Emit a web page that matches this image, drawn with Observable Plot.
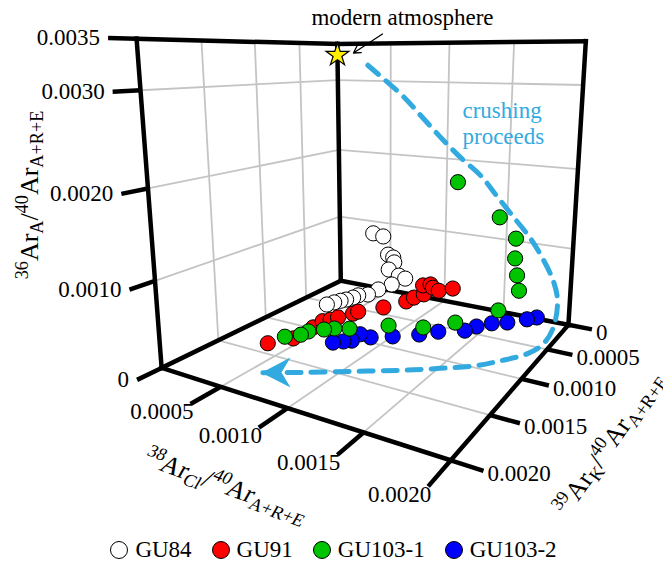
<!DOCTYPE html>
<html><head><meta charset="utf-8">
<script src="https://cdn.jsdelivr.net/npm/d3@7"></script>
<script src="https://cdn.jsdelivr.net/npm/@observablehq/plot@0.6"></script>
<style>
body{margin:0;background:#fff;}
#chart{position:absolute;left:0;top:0;}
#legend{position:absolute;left:2px;top:537px;width:663px;display:flex;justify-content:center;align-items:center;line-height:26px;}
.item{display:flex;align-items:center;margin:0 10px;}
.sw{width:18px;height:18px;border-radius:50%;border:1px solid #000;box-sizing:border-box;margin-right:7px;}
</style></head><body><div id="chart"></div><div id="legend"></div>
<script>
// ---------------- DATA ----------------
const seriesNames = ["GU84", "GU91", "GU103-1", "GU103-2"];
const seriesColors = ["#ffffff", "#ff0000", "#00c400", "#0000ff"];
// 38ArCl/40Ar (Cl), 39ArK/40Ar (K), 36ArA/40Ar (A)
const gu84_Cl = [0.00066,0.00077,0.00084,0.00086,0.00088,0.00084,0.00093,0.00096,0.00090,0.00083,0.00078,0.00073,0.00068,0.00066,0.00064,0.00062,0.00060];
const gu84_K  = [0.00053,0.00057,0.00062,0.00058,0.00060,0.00061,0.00062,0.00058,0.00067,0.00074,0.00080,0.00085,0.00084,0.00090,0.00094,0.00099,0.00105];
const gu84_A  = [0.00110,0.00110,0.00090,0.00085,0.00080,0.00070,0.00065,0.00060,0.00055,0.00050,0.00045,0.00045,0.00040,0.00040,0.00040,0.00040,0.00040];
const gu91_Cl = [0.00059,0.00068,0.00068,0.00067,0.00070,0.00072,0.00077,0.00078,0.00089,0.00097,0.00098,0.00101,0.00091,0.00095,0.00100,0.00107,0.00114];
const gu91_K  = [0.00167,0.00153,0.00132,0.00120,0.00115,0.00109,0.00098,0.00093,0.00077,0.00058,0.00048,0.00038,0.00020,0.00015,0.00021,0.00025,0.00015];
const gu91_A  = [0.00030,0.00030,0.00030,0.00030,0.00030,0.00030,0.00030,0.00030,0.00030,0.00030,0.00030,0.00030,0.00030,0.00030,0.00030,0.00030,0.00030];
const gu1031_Cl = [0.00114,0.00148,0.00161,0.00161,0.00163,0.00165,0.00156,0.00139,0.00124,0.00102,0.00082,0.00073,0.00068,0.00061,0.00060,0.00053];
const gu1031_K  = [0.00010,0.00010,0.00010,0.00010,0.00010,0.00010,0.00027,0.00064,0.00083,0.00092,0.00110,0.00115,0.00120,0.00128,0.00135,0.00143];
const gu1031_A  = [0.00173,0.00133,0.00108,0.00082,0.00060,0.00040,0.00020,0.00020,0.00020,0.00020,0.00020,0.00020,0.00020,0.00020,0.00020,0.00020];
const gu1032_Cl = [0.00180,0.00175,0.00165,0.00156,0.00149,0.00145,0.00130,0.00121,0.00107,0.00095,0.00086,0.00087,0.00083,0.00078];
const gu1032_K  = [0.00012,0.00019,0.00032,0.00039,0.00050,0.00061,0.00072,0.00083,0.00095,0.00104,0.00103,0.00115,0.00119,0.00124];
const gu1032_A  = [0.00010,0.00010,0.00010,0.00010,0.00010,0.00010,0.00010,0.00010,0.00010,0.00010,0.00010,0.00010,0.00010,0.00010];
// modern atmosphere
const atmCl = 0, atmK = 0, atmA = 0.003349;
// "crushing proceeds" trend path
const trendCl = [0.00029,0.00045,0.00062,0.00077,0.00094,0.00111,0.00128,0.00142,0.00155,0.00168,0.00178,0.00187,0.00191,0.00192,0.00195,0.00191,0.00180,0.00168,0.00151,0.00131,0.00105,0.00079,0.00059];
const trendK  = [0,0,0,0,0,0,0,0,0,0,0,0,0,0.00010,0.00042,0.00063,0.00082,0.00098,0.00112,0.00127,0.00144,0.00161,0.00173];
const trendA  = [0.00321,0.00301,0.00279,0.00255,0.00228,0.00203,0.00181,0.00155,0.00131,0.00107,0.00083,0.00055,0.00030,0,0,0,0,0,0,0,0,0,0];
// axes
const clMax = 0.0020, kMax = 0.0020, aMax = 0.0035;
const aTicks = [0, 0.0010, 0.0020, 0.0030, 0.0035];
const clTicks = [0.0005, 0.0010, 0.0015, 0.0020];
const kTicks = [0, 0.0005, 0.0010, 0.0015, 0.0020];
const gridCl = [0.0005, 0.0010, 0.0015];
const gridK = [0.0005, 0.0010, 0.0015];
const gridA = [0.0010, 0.0020, 0.0030];

// ---------------- FONT ----------------
function fontAvailable(name){
 const c=document.createElement("canvas").getContext("2d");const s="0.0035 modern atmosphere GU103-2 WMiil";
 for(const base of ["monospace","sans-serif"]){c.font=`40px ${base}`;const w0=c.measureText(s).width;
  c.font=`40px "${name}", ${base}`;const w1=c.measureText(s).width;if(Math.abs(w0-w1)>0.5)return true;}
 return false;}
const serifCandidates=["Liberation Serif","Times New Roman","Tinos","Nimbus Roman","Times","DejaVu Serif","Noto Serif"];
const FONT=serifCandidates.find(fontAvailable)||"serif";
const FS=/DejaVu/.test(FONT)?19:/Noto/.test(FONT)?20.5:23;
const TS=FS*26/23;

// ---------------- LAYOUT: perspective camera fitted to the box frame ----------------
const W = 663, H = 531;
const frameRef = [[0,0,0,340,280],[0,1,0,160,363],[1,0,0,568,325],[1,1,0,450,461],[0,0,1,337,44],[0,1,1,137,37],[1,0,1,583,40],
 [0,1,2/7,154,284],[0,1,4/7,148,190],[0,1,6/7,141,90.7],[1,.25,0,546,350],[1,.5,0,522,378],[1,.75,0,491,413],
 [0,.25,1,298,42.6],[0,.5,1,253,41],[0,.75,1,200,39.2],[.25,0,1,393,43.1],[.5,0,1,450,42.2],[.75,0,1,513,41.1]];
function fitCamera(pts){const rows=[],rhs=[];for(const [X,Y,Z,x,y] of pts){rows.push([X,Y,Z,1,0,0,0,0,-x*X,-x*Y,-x*Z]);rhs.push(x);rows.push([0,0,0,0,X,Y,Z,1,-y*X,-y*Y,-y*Z]);rhs.push(y);}
 const n=11;const M=Array.from({length:n},()=>Array(n+1).fill(0));rows.forEach((r,k)=>{for(let i=0;i<n;i++){for(let j=0;j<n;j++)M[i][j]+=r[i]*r[j];M[i][n]+=r[i]*rhs[k];}});
 for(let c=0;c<n;c++){let m=c;for(let r=c+1;r<n;r++)if(Math.abs(M[r][c])>Math.abs(M[m][c]))m=r;[M[c],M[m]]=[M[m],M[c]];for(let r=0;r<n;r++){if(r===c)continue;const f=M[r][c]/M[c][c];for(let j=c;j<=n;j++)M[r][j]-=f*M[c][j];}}
 return M.map((r,i)=>r[n]/r[i]);}
const cam = fitCamera(frameRef);
function P(cl,k,a){const u=cl/clMax,v=k/kMax,w=a/aMax;const d=cam[8]*u+cam[9]*v+cam[10]*w+1;
 return [(cam[0]*u+cam[1]*v+cam[2]*w+cam[3])/d,(cam[4]*u+cam[5]*v+cam[6]*w+cam[7])/d];}
const seg=(p,q)=>{const [x1,y1]=P(...p),[x2,y2]=P(...q);return {x1,y1,x2,y2};};

const grid=[];
for(const k of gridK){grid.push(seg([0,k,0],[0,k,aMax]));grid.push(seg([0,k,0],[clMax,k,0]));}
for(const c of gridCl){grid.push(seg([c,0,0],[c,0,aMax]));grid.push(seg([c,0,0],[c,kMax,0]));}
for(const a of gridA){grid.push(seg([0,0,a],[0,kMax,a]));grid.push(seg([0,0,a],[clMax,0,a]));}
const edges=[seg([0,0,0],[0,0,aMax]),seg([0,kMax,0],[0,kMax,aMax]),seg([clMax,0,0],[clMax,0,aMax]),
 seg([0,kMax,aMax],[0,0,aMax]),seg([0,0,aMax],[clMax,0,aMax]),
 seg([0,0,0],[0,kMax,0]),seg([0,0,0],[clMax,0,0]),seg([0,kMax,0],[clMax,kMax,0]),seg([clMax,0,0],[clMax,kMax,0])];
const aTickSegs=aTicks.map(a=>({...seg([0,kMax,a],[0,kMax*1.095,a]),label:a===0?"0":a.toFixed(4)}));
const clTickSegs=clTicks.map(c=>({...seg([c,kMax,0],[c,kMax*1.12,0]),label:c.toFixed(4)}));
const kTickSegs=kTicks.map(k=>({...seg([clMax,k,0],[clMax*1.085,k,0]),label:k===0?"0":k.toFixed(4)}));

const raw=[[gu84_Cl,gu84_K,gu84_A],[gu91_Cl,gu91_K,gu91_A],[gu1031_Cl,gu1031_K,gu1031_A],[gu1032_Cl,gu1032_K,gu1032_A]];
const drawOrder=[0,1,3,2];
const pts=drawOrder.flatMap(s=>raw[s][0].map((c,i)=>{const [x,y]=P(c,raw[s][1][i],raw[s][2][i]);return {x,y,s:seriesNames[s],fill:seriesColors[s]};}));
const atm=(()=>{const [x,y]=P(atmCl,atmK,atmA);return {x,y};})();
const trend=trendCl.map((c,i)=>{const [x,y]=P(c,trendK[i],trendA[i]);return {x,y};});
const tip=trend[trend.length-1], prev=trend[trend.length-2];
const headAngle=Math.atan2(tip.y-prev.y,tip.x-prev.x)*180/Math.PI;
const arrowHead={draw(ctx){ctx.moveTo(1,0);ctx.lineTo(-28,-15);ctx.lineTo(-19,0);ctx.lineTo(-28,15);ctx.closePath();}};

const BLUE="#33aadf";
const chart=Plot.plot({
 width:W,height:H,margin:0,
 x:{type:"identity"},y:{type:"identity"},
 style:{fontFamily:FONT,background:"#fff"},
 marks:[
  Plot.link(grid,{x1:"x1",y1:"y1",x2:"x2",y2:"y2",stroke:"#c4c4c4",strokeWidth:1.8}),
  Plot.link(edges,{x1:"x1",y1:"y1",x2:"x2",y2:"y2",stroke:"#000",strokeWidth:4.5,strokeLinecap:"square"}),
  Plot.link(aTickSegs,{x1:"x1",y1:"y1",x2:"x2",y2:"y2",stroke:"#000",strokeWidth:4.5}),
  Plot.link(clTickSegs,{x1:"x1",y1:"y1",x2:"x2",y2:"y2",stroke:"#000",strokeWidth:4.5}),
  Plot.link(kTickSegs,{x1:"x1",y1:"y1",x2:"x2",y2:"y2",stroke:"#000",strokeWidth:4.5}),
  Plot.text(aTickSegs,{x:"x2",y:"y2",text:"label",textAnchor:"end",dx:-8,fontSize:FS,fontFamily:FONT,fill:"#000"}),
  Plot.text(clTickSegs,{x:"x2",y:"y2",text:"label",textAnchor:"end",dx:3,dy:8,fontSize:FS,fontFamily:FONT,fill:"#000"}),
  Plot.text(kTickSegs,{x:"x2",y:"y2",text:"label",textAnchor:"start",dx:4,dy:3,fontSize:FS,fontFamily:FONT,fill:"#000"}),
  Plot.dot(pts,{x:"x",y:"y",r:7.6,fill:"fill",stroke:"#000",strokeWidth:1}),
  Plot.line(trend,{x:"x",y:"y",stroke:BLUE,strokeWidth:5,strokeDasharray:"14,10",curve:"catmull-rom"}),
  Plot.dot([tip],{x:"x",y:"y",symbol:arrowHead,fill:BLUE,stroke:"none",rotate:headAngle}),
  Plot.dot([atm],{x:"x",y:"y",symbol:"star",r:7.2,fill:"#ffee00",stroke:"#000",strokeWidth:1.2}),
  Plot.arrow([atm],{x1:d=>d.x+45,y1:d=>d.y-21,x2:d=>d.x+16,y2:d=>d.y-2,stroke:"#000",strokeWidth:1.3,headLength:9}),
  Plot.text([atm],{x:"x",y:"y",text:()=>"modern atmosphere",textAnchor:"start",lineAnchor:"bottom",dx:-26,dy:-30,fontSize:FS,fontFamily:FONT,fill:"#000"}),
  Plot.text(["crushing","proceeds"],{x:()=>462,y:(d,i)=>117+i*26,text:d=>d,textAnchor:"start",lineAnchor:"bottom",fontSize:FS,fontFamily:FONT,fill:BLUE})
 ]
});
const svg=d3.select(chart);
function rich(x,y,angle,skew,parts,size){
 const t=svg.append("text").attr("transform",`translate(${x},${y}) rotate(${angle}) skewX(${skew})`)
  .attr("text-anchor","middle").attr("font-family",FONT).attr("font-size",size).attr("fill","#000");
 let cur=0;
 for(const [s,k] of parts){const target=k==="sup"?-0.38*size:k==="sub"?0.2*size:0;
  t.append("tspan").attr("dy",target-cur).attr("font-size",k?size*0.7:size).text(s);cur=target;}
}
const tail=[["/",""],["40","sup"],["Ar",""],["A+R+E","sub"]];
rich(38,195,-90,0,[["36","sup"],["Ar",""],["A","sub"],...tail],TS);
rich(222,493,20,-10,[["38","sup"],["Ar",""],["Cl","sub"],...tail],TS);
rich(616,448,-55,0,[["39","sup"],["Ar",""],["K","sub"],...tail],TS);
document.getElementById("chart").append(chart);
const lg=d3.select("#legend").style("font-family",`"${FONT}"`).style("font-size",FS+"px");
seriesNames.forEach((n,i)=>{const it=lg.append("div").attr("class","item");
 it.append("div").attr("class","sw").style("background",seriesColors[i]);it.append("span").text(n);});
</script></body></html>
